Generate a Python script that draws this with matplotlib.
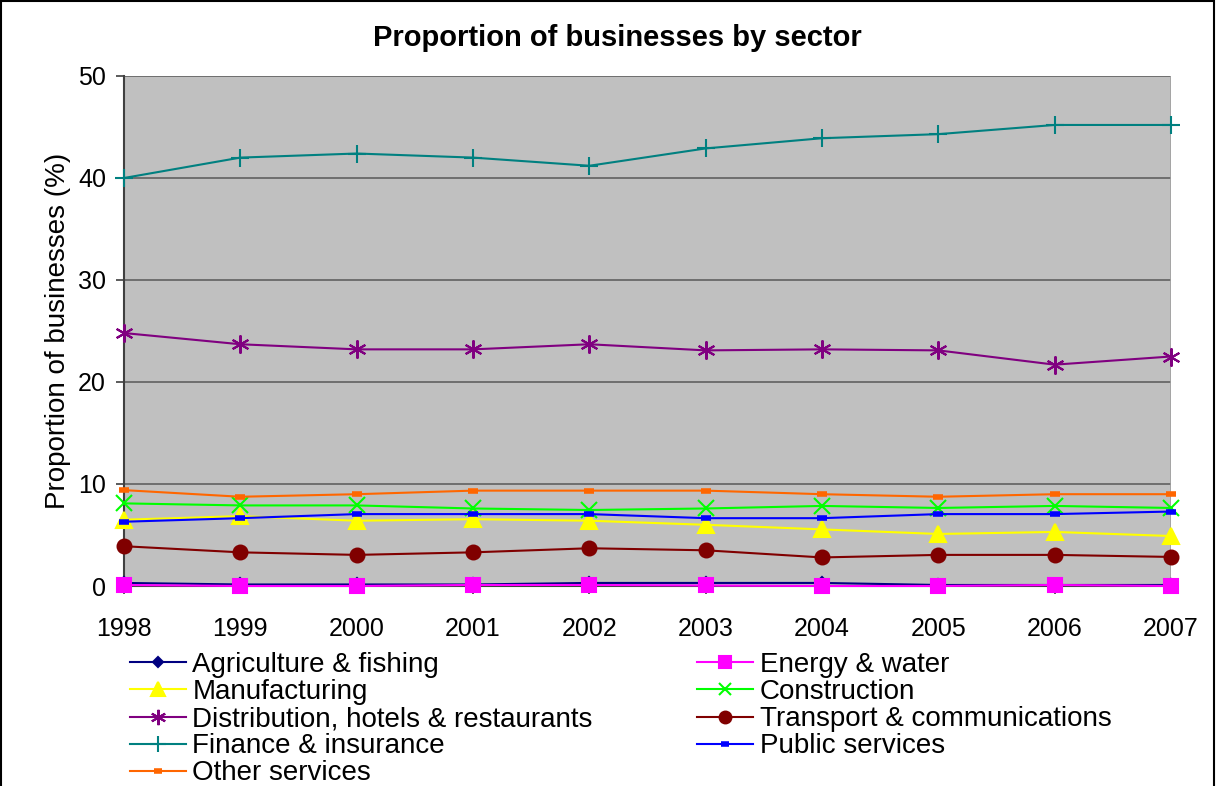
import matplotlib
matplotlib.use("Agg")
import matplotlib.pyplot as plt
from matplotlib.patches import Rectangle

plt.rcParams['font.family'] = ['Liberation Sans', 'DejaVu Sans']

years = [1998, 1999, 2000, 2001, 2002, 2003, 2004, 2005, 2006, 2007]

agriculture = [0.3, 0.15, 0.15, 0.15, 0.3, 0.3, 0.3, 0.1, 0.1, 0.1]
energy = [0.1, 0.0, 0.0, 0.1, 0.1, 0.05, 0.0, 0.0, 0.1, 0.0]
manufacturing = [6.5, 6.85, 6.4, 6.55, 6.4, 6.0, 5.55, 5.1, 5.3, 4.9]
construction = [8.1, 7.9, 7.9, 7.6, 7.45, 7.6, 7.85, 7.65, 7.85, 7.65]
distribution = [24.8, 23.7, 23.2, 23.2, 23.7, 23.1, 23.2, 23.1, 21.7, 22.5]
transport = [3.9, 3.3, 3.05, 3.3, 3.7, 3.5, 2.8, 3.05, 3.05, 2.85]
finance = [40.0, 42.0, 42.4, 42.0, 41.2, 42.9, 43.9, 44.3, 45.2, 45.2]
public = [6.3, 6.65, 7.05, 7.05, 7.05, 6.65, 6.65, 7.05, 7.05, 7.3]
other = [9.4, 8.75, 9.0, 9.35, 9.35, 9.35, 9.0, 8.75, 9.0, 9.0]

# (label, values, colour, marker, marker size)
series = [
    ("Agriculture & fishing", agriculture, "#000080", "D", 6),
    ("Energy & water", energy, "#FF00FF", "s", 10),
    ("Manufacturing", manufacturing, "#FFFF00", "^", 12),
    ("Construction", construction, "#00FF00", "x", 11),
    ("Distribution, hotels & restaurants", distribution, "#800080", (6, 2, 0), 13),
    ("Transport & communications", transport, "#800000", "o", 10),
    ("Finance & insurance", finance, "#008080", "+", 13),
    ("Public services", public, "#0000FF", "_", 7),
    ("Other services", other, "#FF6600", "_", 7),
]

fig = plt.figure(figsize=(12.16, 7.86), dpi=100)
ax = fig.add_axes([124 / 1216, 1 - 586 / 786, 1047 / 1216, 510 / 786])
ax.set_facecolor("#C0C0C0")

handles = {}
for label, values, color, marker, ms in series:
    mew = 4 if marker == "_" else 1.5
    line, = ax.plot(years, values, color=color, lw=1.5, marker=marker, ms=ms,
                    mec=color, mfc=color, mew=mew, label=label, clip_on=False,
                    zorder=3)
    handles[label] = line

ax.set_xlim(1998, 2007)
ax.set_ylim(0, 50)
ax.set_xticks(years)
ax.set_yticks([0, 10, 20, 30, 40, 50])
ax.grid(axis="y", color="#606060", lw=1.2)
ax.set_axisbelow(True)

for side in ("top", "right"):
    ax.spines[side].set_visible(False)
ax.spines["left"].set_color("#404040")
ax.spines["left"].set_linewidth(1.5)
ax.spines["bottom"].set_color("#404040")
ax.spines["bottom"].set_linewidth(1.5)
ax.axvline(2007, color="#A0A0A0", lw=1.2, zorder=1)

ax.tick_params(axis="both", labelsize=18, direction="out", length=6,
               color="#404040", width=1.2)
ax.tick_params(axis="y", pad=7)
ax.tick_params(axis="x", pad=16)

ax.set_ylabel("Proportion of businesses (%)", fontsize=20, labelpad=5)
fig.text(617 / 1216, 1 - 38 / 786,
         "Proportion of businesses by sector", ha="center", va="center",
         fontsize=21, fontweight="bold")

# legend laid out row by row: left column then right column
order = ["Agriculture & fishing", "Manufacturing",
         "Distribution, hotels & restaurants", "Finance & insurance",
         "Other services", "Energy & water", "Construction",
         "Transport & communications", "Public services"]
leg = fig.legend([handles[k] for k in order], order, ncol=2,
                 loc="upper left", bbox_to_anchor=(130 / 1216, 1 - 652 / 786),
                 frameon=False, fontsize=20, handlelength=2.0,
                 handletextpad=0.25, labelspacing=0.04, columnspacing=3.75,
                 borderaxespad=0, borderpad=0)
for h in leg.legend_handles:
    h.set_markersize(h.get_markersize() * 0.85)

fig.add_artist(Rectangle((1 / 1216, -0.05), 1213 / 1216, 1.05 - 1 / 786,
                         transform=fig.transFigure, fill=False,
                         edgecolor="black", lw=1.5))

fig.savefig("out.png", dpi=100)
